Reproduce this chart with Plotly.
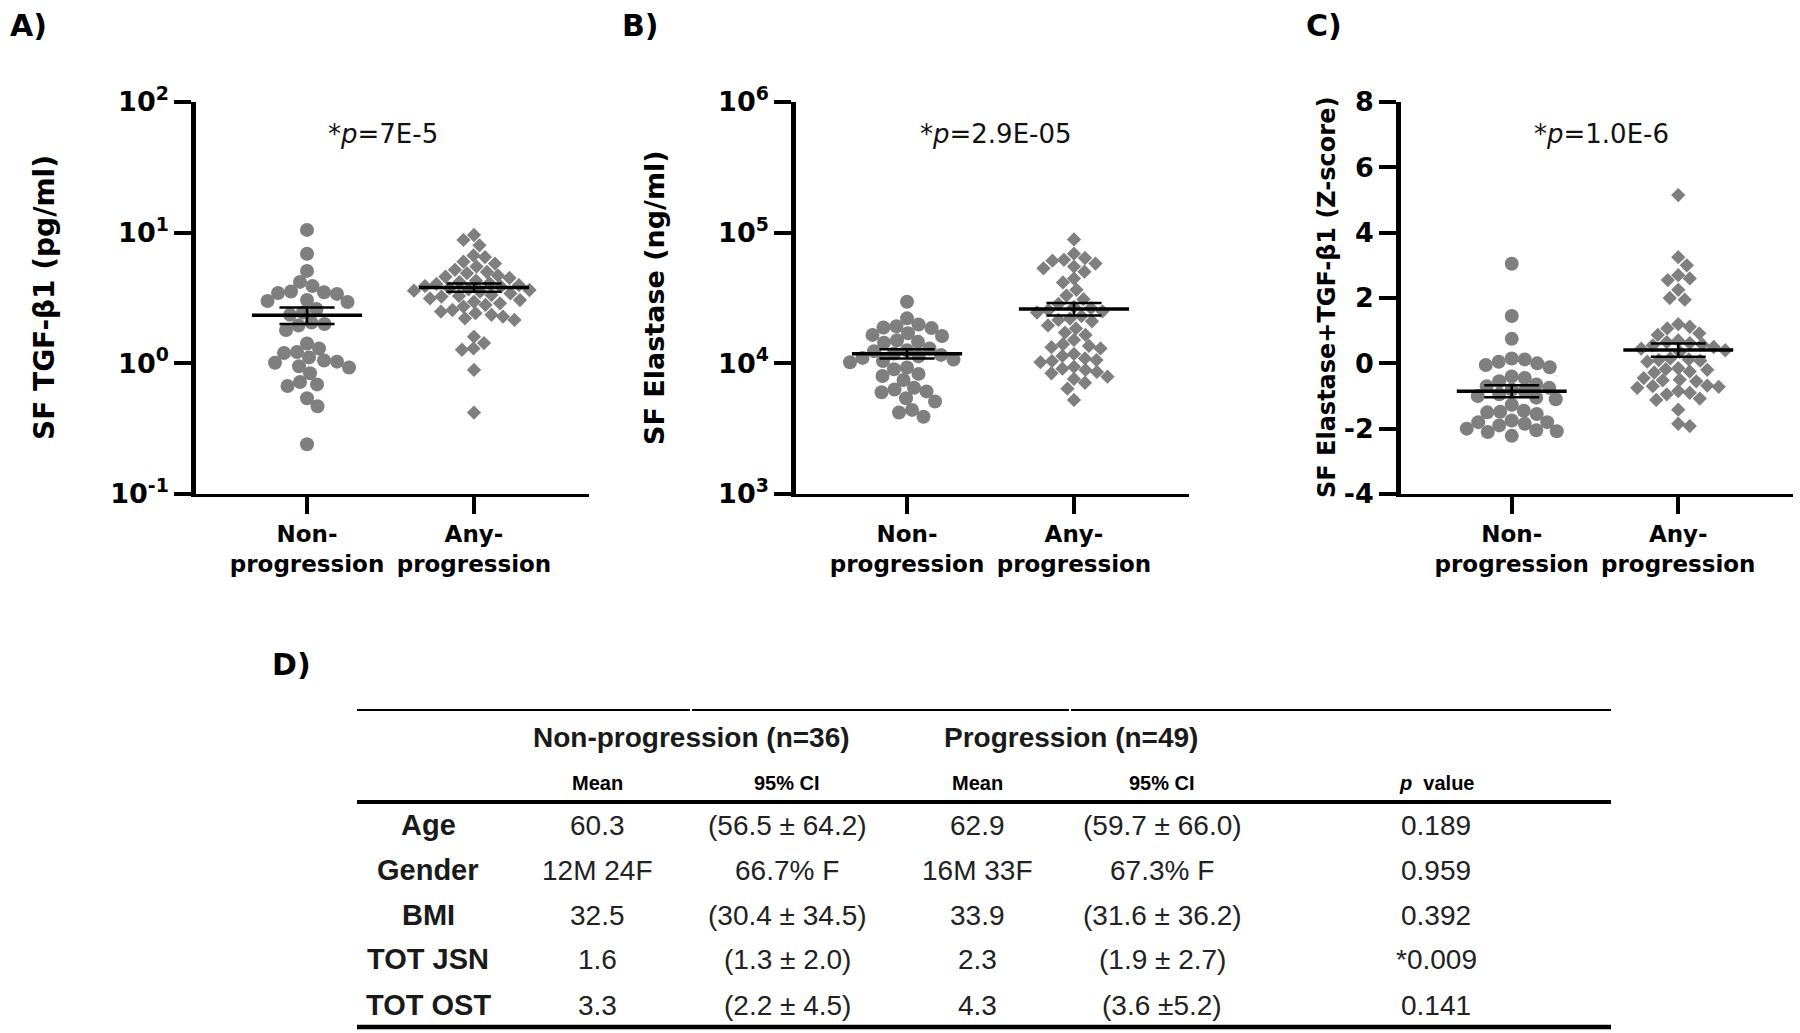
import numpy as np
import plotly.graph_objects as go

# ---------------- data ----------------
categories = ["Non-<br>progression", "Any-<br>progression"]

tgf_non = [10.5, 6.9, 5.1, 4.2, 3.9, 3.55, 3.5, 3.45, 3.4, 3.05, 3.0, 2.95, 2.6, 2.45, 2.35,
           2.05, 2.0, 1.95, 1.8, 1.42, 1.30, 1.22, 1.20, 1.11, 1.05, 1.03, 1.01, 0.95, 0.93,
           0.84, 0.72, 0.69, 0.67, 0.54, 0.47, 0.24]
tgf_any = [9.6, 8.8, 8.0, 6.7, 6.5, 6.0, 5.8, 5.5, 5.2, 5.0, 4.9, 4.7, 4.6, 4.5, 4.3, 4.2, 4.1,
           4.05, 3.97, 3.9, 3.86, 3.75, 3.68, 3.64, 3.6, 3.53, 3.43, 3.33, 3.28, 3.24, 3.14,
           3.05, 2.96, 2.88, 2.80, 2.72, 2.56, 2.49, 2.42, 2.35, 2.28, 2.21, 2.15, 1.60, 1.43,
           1.30, 1.27, 0.89, 0.42]

ela_non = [29600, 22100, 19800, 18600, 19200, 18800, 17000, 16500, 16200, 15000, 14600, 14400,
           13000, 12600, 12400, 11900, 11600, 11300, 11000, 10700, 10400, 10200, 9300, 9000,
           8300, 8000, 7450, 6500, 6300, 6100, 6000, 5400, 5100, 4400, 4200, 3900]
ela_any = [88800, 69000, 64000, 62000, 61000, 58000, 55000, 53300, 50300, 44500, 41600, 36500,
           33000, 31000, 28500, 27000, 26500, 25500, 25000, 24500, 23000, 22000, 21500, 21000,
           19500, 18500, 17200, 16500, 15100, 14000, 13600, 13300, 13000, 11800, 11400, 10900,
           10600, 10400, 10200, 9400, 9100, 8900, 8600, 8400, 7900, 7600, 7100, 6400, 5250]

z_non = [3.05, 1.45, 0.75, 0.15, 0.12, 0.05, 0.0, -0.05, -0.12, -0.40, -0.45, -0.55, -0.65,
         -0.70, -0.75, -0.80, -0.85, -0.95, -1.0, -1.05, -1.10, -1.27, -1.45, -1.48, -1.50,
         -1.55, -1.75, -1.80, -1.80, -1.85, -1.90, -2.0, -2.05, -2.08, -2.10, -2.22]
z_any = [5.15, 3.25, 3.0, 2.7, 2.6, 2.55, 2.25, 2.0, 1.95, 1.2, 1.12, 1.07, 0.92, 0.87, 0.70,
         0.65, 0.62, 0.58, 0.55, 0.50, 0.45, 0.40, 0.35, 0.15, 0.12, 0.10, 0.08, 0.05, -0.15,
         -0.18, -0.20, -0.25, -0.28, -0.45, -0.50, -0.52, -0.55, -0.68, -0.70, -0.72, -0.75,
         -0.85, -0.90, -0.95, -1.08, -1.12, -1.42, -1.85, -1.92]

panel_letters = ["A)", "B)", "C)"]
y_titles = ["SF TGF-β1 (pg/ml)", "SF Elastase (ng/ml)", "SF Elastase+TGF-β1 (Z-score)"]
p_texts = ["*<i>p</i>=7E-5", "*<i>p</i>=2.9E-05", "*<i>p</i>=1.0E-6"]

log_ticks_a = [0.1, 1, 10, 100]
log_ticktext_a = ["10<sup>-1</sup>", "10<sup>0</sup>", "10<sup>1</sup>", "10<sup>2</sup>"]
log_ticks_b = [1e3, 1e4, 1e5, 1e6]
log_ticktext_b = ["10<sup>3</sup>", "10<sup>4</sup>", "10<sup>5</sup>", "10<sup>6</sup>"]
lin_ticks_c = [-4, -2, 0, 2, 4, 6, 8]
lin_ticktext_c = ["-4", "-2", "0", "2", "4", "6", "8"]

table_header = ["Non-progression (n=36)", "Progression (n=49)"]
table_sub = ["Mean", "95% CI", "Mean", "95% CI", "<i>p</i>  value"]
row_labels = ["Age", "Gender", "BMI", "TOT JSN", "TOT OST"]
non_mean = ["60.3", "12M 24F", "32.5", "1.6", "3.3"]
non_ci = ["(56.5 ± 64.2)", "66.7% F", "(30.4 ± 34.5)", "(1.3 ± 2.0)", "(2.2 ± 4.5)"]
prog_mean = ["62.9", "16M 33F", "33.9", "2.3", "4.3"]
prog_ci = ["(59.7 ± 66.0)", "67.3% F", "(31.6 ± 36.2)", "(1.9 ± 2.7)", "(3.6 ±5.2)"]
p_values = ["0.189", "0.959", "0.392", "*0.009", "0.141"]

# ---------------- layout helpers ----------------
W, H = 1800, 1033
def fx(x):
    return x / W
def fy(y):
    return 1 - y / H

GRAY = "#7f7f7f"
PLOT_FONT = "DejaVu Sans"
TAB_FONT = "Liberation Sans, Arial, sans-serif"

X_RANGE = [-0.665, 1.689]
AX_TOP, AX_BOT = 102, 494
panels = [
    dict(x0=196, x1=589, log=True, yrange=[-1, 2], tv=log_ticks_a, tt=log_ticktext_a,
         non=tgf_non, any=tgf_any, letter_x=28, title_x=45, title_size=28, p_x=383),
    dict(x0=796, x1=1189, log=True, yrange=[3, 6], tv=log_ticks_b, tt=log_ticktext_b,
         non=ela_non, any=ela_any, letter_x=640, title_x=655, title_size=27, p_x=996),
    dict(x0=1401, x1=1793, log=False, yrange=[-4, 8], tv=lin_ticks_c, tt=lin_ticktext_c,
         non=z_non, any=z_any, letter_x=1324, title_x=1327, title_size=24, p_x=1601),
]


def swarm(vals, log, px_per_y, px_per_cat, dmin):
    v = np.asarray(vals, float)
    v = np.log10(v) if log else v
    y = v * px_per_y
    order = np.argsort(-y)
    px = np.empty(0)
    py = np.empty(0)
    out = np.zeros(len(y))
    steps = np.arange(0, 150, 0.5)
    for k, i in enumerate(order):
        chosen = 0.0
        signs = (-1, 1) if k % 2 else (1, -1)
        found = False
        for c in steps:
            for s in signs:
                x = s * c
                if len(px) == 0 or np.all((x - px) ** 2 + (y[i] - py) ** 2 >= dmin ** 2):
                    chosen = x
                    found = True
                    break
            if found:
                break
        out[i] = chosen
        px = np.append(px, chosen)
        py = np.append(py, y[i])
    return out / px_per_cat


fig = go.Figure()
annotations = []
shapes = []

for k, p in enumerate(panels):
    sfx = "" if k == 0 else str(k + 1)
    xa, ya = "x" + sfx, "y" + sfx
    width_px = p["x1"] - p["x0"]
    px_per_cat = width_px / (X_RANGE[1] - X_RANGE[0])
    px_per_y = (AX_BOT - AX_TOP) / (p["yrange"][1] - p["yrange"][0])

    for ci, (vals, sym, size, dmin) in enumerate([(p["non"], "circle", 14, 13.0),
                                                  (p["any"], "diamond", 11, 11.5)]):
        offs = swarm(vals, p["log"], px_per_y, px_per_cat, dmin)
        fig.add_trace(go.Scatter(
            x=ci + offs, y=vals, mode="markers", xaxis=xa, yaxis=ya,
            marker=dict(symbol=sym, size=size, color=GRAY, line=dict(width=0)),
            showlegend=False, hoverinfo="skip"))

    for ci, vals in enumerate([p["non"], p["any"]]):
        a = np.asarray(vals, float)
        m = a.mean()
        se = a.std(ddof=1) / np.sqrt(len(a))
        fig.add_trace(go.Scatter(
            x=[ci - 0.33, ci + 0.33], y=[m, m], mode="lines", xaxis=xa, yaxis=ya,
            line=dict(color="black", width=3.5), showlegend=False, hoverinfo="skip"))
        fig.add_trace(go.Scatter(
            x=[ci - 0.165, ci + 0.165, None, ci - 0.165, ci + 0.165, None, ci, ci],
            y=[m + se, m + se, None, m - se, m - se, None, m - se, m + se],
            mode="lines", xaxis=xa, yaxis=ya,
            line=dict(color="black", width=2.5), showlegend=False, hoverinfo="skip"))

    xdom = [fx(p["x0"]), fx(p["x1"])]
    ydom = [fy(AX_BOT), fy(AX_TOP)]
    xaxis = dict(domain=xdom, range=X_RANGE, tickvals=[0, 1], ticktext=categories,
                 showline=True, linecolor="black", linewidth=3, ticks="outside",
                 ticklen=17, tickwidth=3.5, tickcolor="black",
                 tickfont=dict(family=PLOT_FONT, size=23, color="black", weight="bold"),
                 showgrid=False, zeroline=False, anchor=ya, fixedrange=True,
                 automargin=False)
    yaxis = dict(domain=ydom, tickvals=p["tv"], ticktext=p["tt"],
                 showline=True, linecolor="black", linewidth=4.5, ticks="outside",
                 ticklen=17, tickwidth=4, tickcolor="black",
                 tickfont=dict(family=PLOT_FONT, size=27, color="black", weight="bold"),
                 showgrid=False, zeroline=False, anchor=xa, fixedrange=True,
                 automargin=False)
    if p["log"]:
        yaxis.update(type="log", range=p["yrange"])
    else:
        yaxis.update(range=p["yrange"])
    fig.update_layout(**{"xaxis" + sfx: xaxis, "yaxis" + sfx: yaxis})

    annotations.append(dict(text=panel_letters[k], x=fx(p["letter_x"]), y=fy(26),
                            xref="paper", yref="paper", showarrow=False,
                            xanchor="center", yanchor="middle",
                            font=dict(family=PLOT_FONT, size=30, color="black", weight="bold")))
    annotations.append(dict(text=y_titles[k], x=fx(p["title_x"]), y=fy(298),
                            xref="paper", yref="paper", showarrow=False, textangle=-90,
                            xanchor="center", yanchor="middle",
                            font=dict(family=PLOT_FONT, size=p["title_size"], color="black",
                                      weight="bold")))
    annotations.append(dict(text=p_texts[k], x=fx(p["p_x"]), y=fy(134),
                            xref="paper", yref="paper", showarrow=False,
                            xanchor="center", yanchor="middle",
                            font=dict(family=PLOT_FONT, size=26, color="#111111")))

# ---------------- table (panel D) ----------------
annotations.append(dict(text="D)", x=fx(291), y=fy(664), xref="paper", yref="paper",
                        showarrow=False, xanchor="center", yanchor="middle",
                        font=dict(family=PLOT_FONT, size=30, color="black", weight="bold")))

def hline(x0, x1, y, w):
    shapes.append(dict(type="line", xref="paper", yref="paper", x0=fx(x0), x1=fx(x1),
                       y0=fy(y), y1=fy(y), line=dict(color="black", width=w)))

hline(357, 690, 710, 2)
hline(692, 1069, 710, 2)
hline(1071, 1611, 710, 2)
hline(357, 1611, 802, 4)
hline(357, 1611, 1027, 4.5)

def txt(s, x, y, size, bold=False, color="black"):
    f = dict(family=TAB_FONT, size=size, color=color)
    if bold:
        f["weight"] = "bold"
    annotations.append(dict(text=s, x=fx(x), y=fy(y), xref="paper", yref="paper",
                            showarrow=False, xanchor="center", yanchor="middle", font=f))

txt(table_header[0], 691, 737, 28, bold=True, color="#1a1a1a")
txt(table_header[1], 1071, 737, 28, bold=True, color="#1a1a1a")
col_x = [597, 787, 977, 1162, 1436]
for cx, s in zip(col_x, table_sub):
    txt(s, cx, 783, 20, bold=True)

row_y = [825, 870, 915, 959, 1005]
for i, ry in enumerate(row_y):
    txt(row_labels[i], 428, ry, 29, bold=True, color="#1a1a1a")
    txt(non_mean[i], col_x[0], ry, 28, color="#222222")
    txt(non_ci[i], col_x[1], ry, 28, color="#222222")
    txt(prog_mean[i], col_x[2], ry, 28, color="#222222")
    txt(prog_ci[i], col_x[3], ry, 28, color="#222222")
    txt(p_values[i], col_x[4], ry, 28, color="#222222")

fig.update_layout(width=W, height=H, margin=dict(l=0, r=0, t=0, b=0, pad=0, autoexpand=False),
                  paper_bgcolor="white", plot_bgcolor="white", showlegend=False,
                  annotations=annotations, shapes=shapes)

fig.write_html("out.html", config={"displayModeBar": False},
               post_script="document.body.style.margin='0';document.body.style.overflow='hidden';")
